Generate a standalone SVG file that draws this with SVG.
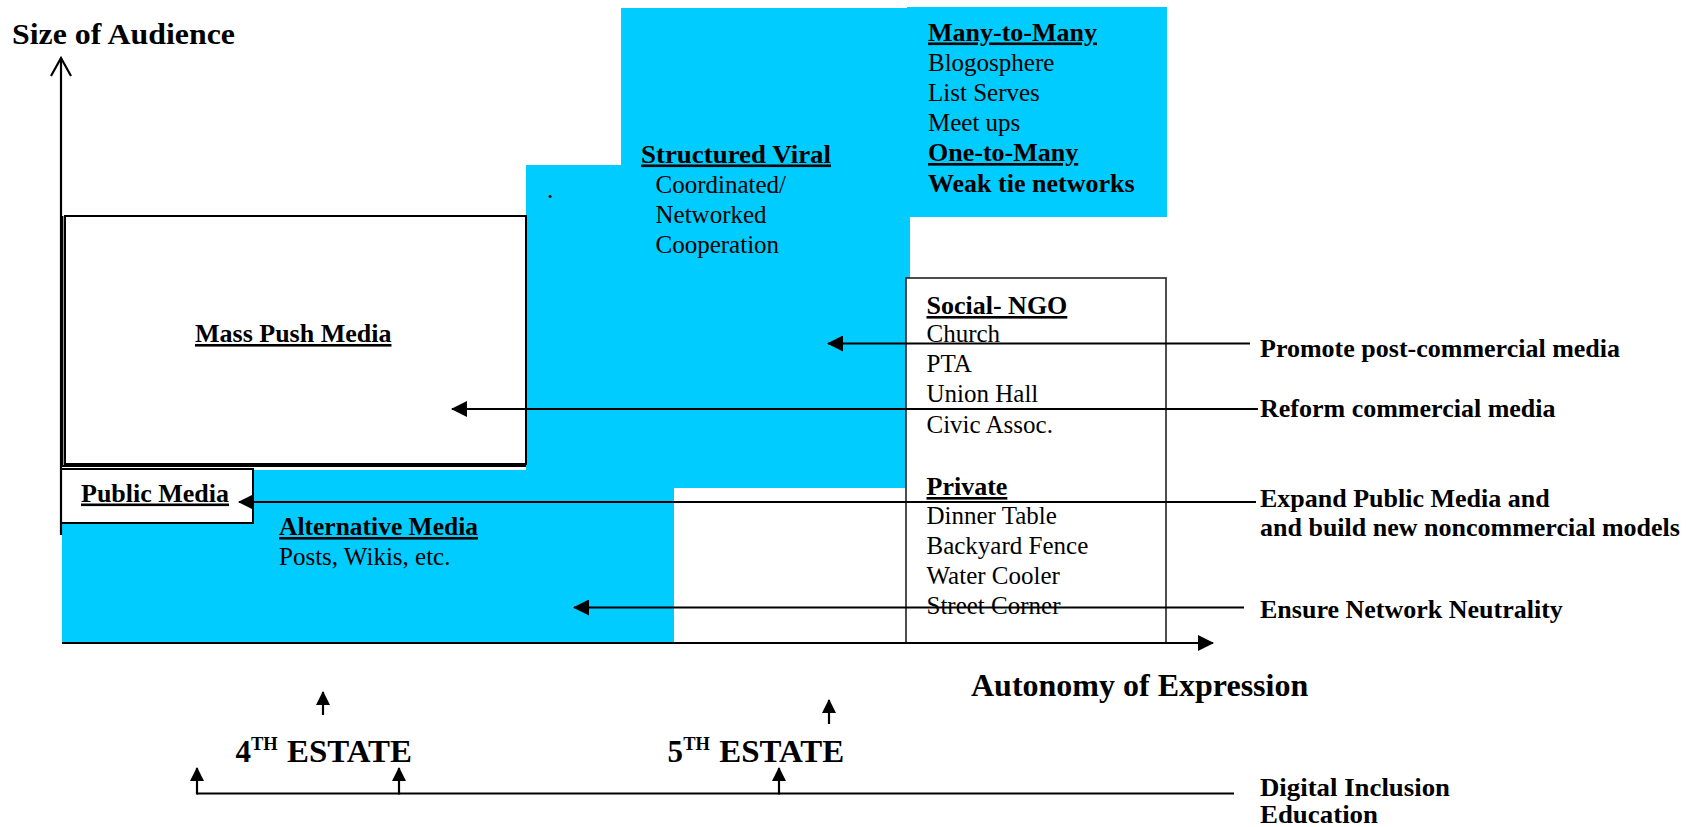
<svg xmlns="http://www.w3.org/2000/svg" width="1705" height="827" viewBox="0 0 1705 827">
<defs>
<style>
.t{font-family:"Liberation Serif","Times New Roman",serif;fill:#000}
.b{font-weight:bold}
.u{text-decoration:underline}
.r25{font-size:25px}
.h26{font-size:26px;font-weight:bold}
.lbl{font-size:26px;font-weight:bold}
.box{fill:#fff;stroke:#000;stroke-width:2}
.ln{stroke:#000;stroke-width:2.2;fill:none}
.blue{fill:#00CCFF}
</style>
<marker id="head" viewBox="0 0 16 16" refX="15" refY="8" markerWidth="16" markerHeight="16" markerUnits="userSpaceOnUse" orient="auto">
<path d="M0,0 L16,8 L0,16 Z" fill="#000"/>
</marker>
<marker id="headS" viewBox="0 0 14 14" refX="13" refY="7" markerWidth="14" markerHeight="14" markerUnits="userSpaceOnUse" orient="auto">
<path d="M0,0 L14,7 L0,14 Z" fill="#000"/>
</marker>
</defs>
<rect width="1705" height="827" fill="#fff"/>

<g id="blue-area">
<path class="blue" d="M621,8 H907 V7 H1167 V217 H910 V488 H674 V643 H62 V470 H526 V165 H621 Z"/>
</g>

<g id="axis-labels">
<text class="t b" x="12" y="44" font-size="30" textLength="223" lengthAdjust="spacingAndGlyphs">Size of Audience</text>
<text class="t b" x="971" y="696" font-size="32">Autonomy of Expression</text>
</g>

<g id="mass-push-media">
<rect class="box" x="65" y="216" width="461" height="248"/>
<path d="M62.5,216 V466 H526" fill="none" stroke="#000" stroke-width="1.8"/>
<text class="t lbl u" x="195" y="342">Mass Push Media</text>
</g>

<g id="public-media">
<rect class="box" x="61" y="469" width="192" height="54"/>
<text class="t lbl u" x="81" y="501.5">Public Media</text>
</g>

<g id="alternative-media">
<text class="t b u" x="279" y="535" font-size="25.5">Alternative Media</text>
<text class="t r25" x="279" y="565">Posts, Wikis, etc.</text>
</g>

<g id="structured-viral">
<text class="t r25" x="547" y="198">.</text>
<text class="t h26 u" x="641" y="162.5" textLength="190" lengthAdjust="spacingAndGlyphs">Structured Viral</text>
<text class="t r25" x="655.5" y="192.5">Coordinated/</text>
<text class="t r25" x="655.5" y="222.5">Networked</text>
<text class="t r25" x="655.5" y="252.5">Cooperation</text>
</g>

<g id="many-to-many">
<text class="t h26 u" x="928" y="40.5">Many-to-Many</text>
<text class="t r25" x="928" y="71">Blogosphere</text>
<text class="t r25" x="928" y="101">List Serves</text>
<text class="t r25" x="928" y="131">Meet ups</text>
<text class="t h26 u" x="928" y="161">One-to-Many</text>
<text class="t h26" x="928" y="191.5">Weak tie networks</text>
</g>

<g id="social-ngo">
<rect x="906" y="278" width="260" height="365" fill="#fff" stroke="#222" stroke-width="1.6"/>
<text class="t h26 u" x="926.5" y="314">Social- NGO</text>
<text class="t r25" x="926.5" y="341.5">Church</text>
<text class="t r25" x="926.5" y="371.5">PTA</text>
<text class="t r25" x="926.5" y="402">Union Hall</text>
<text class="t r25" x="926.5" y="432.5">Civic Assoc.</text>
<text class="t h26 u" x="926.5" y="495">Private</text>
<text class="t r25" x="926.5" y="524">Dinner Table</text>
<text class="t r25" x="926.5" y="554">Backyard Fence</text>
<text class="t r25" x="926.5" y="584">Water Cooler</text>
<text class="t r25" x="926.5" y="614">Street Corner</text>
</g>

<g id="policy-labels">
<text class="t lbl" x="1260" y="356.5">Promote post-commercial media</text>
<text class="t lbl" x="1260" y="416.5">Reform commercial media</text>
<text class="t lbl" x="1260" y="506.5">Expand Public Media and</text>
<text class="t lbl" x="1260" y="536">and build new noncommercial models</text>
<text class="t lbl" x="1260" y="618">Ensure Network Neutrality</text>
</g>

<g id="estates">
<text class="t b" y="761.5" font-size="31"><tspan x="235.4">4</tspan><tspan x="251" dy="-11.3" font-size="18.5">TH</tspan><tspan x="287" dy="11.3" textLength="125" lengthAdjust="spacingAndGlyphs">ESTATE</tspan></text>
<text class="t b" y="761.5" font-size="31"><tspan x="667.6">5</tspan><tspan x="683.2" dy="-11.3" font-size="18.5">TH</tspan><tspan x="719.2" dy="11.3" textLength="125" lengthAdjust="spacingAndGlyphs">ESTATE</tspan></text>
</g>

<g id="digital-inclusion">
<text class="t b" x="1260" y="796" font-size="25" textLength="190" lengthAdjust="spacingAndGlyphs">Digital Inclusion</text>
<text class="t b" x="1260" y="823" font-size="25" textLength="118" lengthAdjust="spacingAndGlyphs">Education</text>
</g>

<g id="connectors">
<line class="ln" x1="61" y1="535" x2="61" y2="58"/>
<polyline class="ln" points="51,76 61,58 71,76"/>
<line class="ln" x1="62" y1="643" x2="1213" y2="643" stroke-width="2.8" marker-end="url(#head)"/>
<line class="ln" x1="1250" y1="343.5" x2="828" y2="343.5" marker-end="url(#head)"/>
<line class="ln" x1="1258" y1="409" x2="452" y2="409" marker-end="url(#head)"/>
<line class="ln" x1="1256" y1="502" x2="239" y2="502" marker-end="url(#head)"/>
<line class="ln" x1="1244" y1="607.5" x2="574" y2="607.5" marker-end="url(#head)"/>
<line class="ln" x1="323" y1="715" x2="323" y2="692" marker-end="url(#headS)"/>
<line class="ln" x1="829" y1="724" x2="829" y2="700" marker-end="url(#headS)"/>
<line class="ln" x1="197" y1="793.5" x2="1234" y2="793.5"/>
<line class="ln" x1="197" y1="794.5" x2="197" y2="768" marker-end="url(#headS)"/>
<line class="ln" x1="399" y1="794.5" x2="399" y2="768" marker-end="url(#headS)"/>
<line class="ln" x1="779" y1="794.5" x2="779" y2="768" marker-end="url(#headS)"/>
</g>
</svg>
